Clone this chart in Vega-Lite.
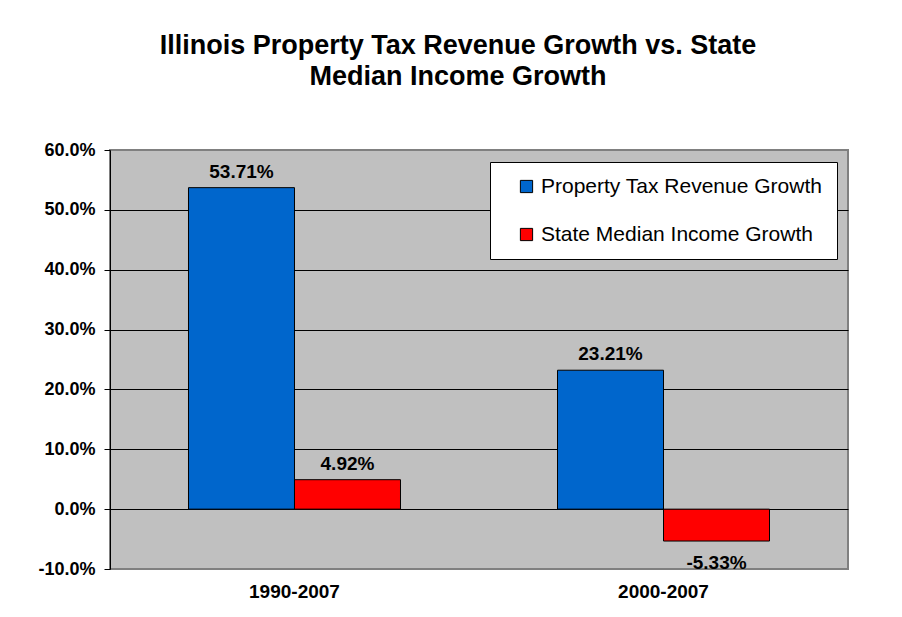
{
  "$schema": "https://vega.github.io/schema/vega-lite/v6.json",
  "width": 738,
  "height": 419,
  "autosize": {"type": "none"},
  "padding": {"left": 110, "top": 150, "right": 54, "bottom": 48},
  "background": "white",
  "config": {
    "font": "Liberation Sans",
    "locale": {"number": {"decimal": ".", "thousands": ",", "grouping": [3], "currency": ["$", ""], "minus": "-"}},
    "view": {"fill": "#C0C0C0", "stroke": "#808080", "strokeWidth": 2}
  },
  "title": {
    "text": ["Illinois Property Tax Revenue Growth vs. State", "Median Income Growth"],
    "fontSize": 27,
    "fontWeight": "bold",
    "color": "black",
    "anchor": "middle",
    "dx": -21,
    "offset": 50,
    "lineHeight": 31
  },
  "data": {
    "values": [
      {"period": "1990-2007", "series": "Property Tax Revenue Growth", "value": 0.5371},
      {"period": "1990-2007", "series": "State Median Income Growth", "value": 0.0492},
      {"period": "2000-2007", "series": "Property Tax Revenue Growth", "value": 0.2321},
      {"period": "2000-2007", "series": "State Median Income Growth", "value": -0.0533}
    ]
  },
  "encoding": {
    "x": {
      "field": "period",
      "type": "nominal",
      "sort": null,
      "scale": {"paddingInner": 0.4255, "paddingOuter": 0.2127},
      "axis": {
        "title": null,
        "labelAngle": 0,
        "labelFontSize": 19,
        "labelFontWeight": "bold",
        "labelColor": "black",
        "ticks": false,
        "domain": false,
        "labelPadding": 13
      }
    },
    "xOffset": {
      "field": "series",
      "type": "nominal",
      "sort": ["Property Tax Revenue Growth", "State Median Income Growth"],
      "scale": {"paddingInner": 0, "paddingOuter": 0}
    },
    "y": {
      "field": "value",
      "type": "quantitative",
      "scale": {"domain": [-0.1, 0.6], "nice": false, "zero": false},
      "axis": {
        "title": null,
        "values": [-0.1, 0, 0.1, 0.2, 0.3, 0.4, 0.5, 0.6],
        "format": ".1%",
        "labelFontSize": 18,
        "labelFontWeight": "bold",
        "labelColor": "black",
        "labelPadding": 9,
        "tickColor": "black",
        "tickSize": 6,
        "domainColor": "black",
        "gridColor": {"condition": {"test": "datum.value <= -0.099 || datum.value >= 0.599", "value": "#808080"}, "value": "black"},
        "gridOpacity": 1
      }
    }
  },
  "layer": [
    {
      "mark": {"type": "bar", "stroke": "black", "strokeWidth": 1},
      "encoding": {
        "color": {
          "field": "series",
          "type": "nominal",
          "sort": ["Property Tax Revenue Growth", "State Median Income Growth"],
          "scale": {"domain": ["Property Tax Revenue Growth", "State Median Income Growth"], "range": ["#0066CC", "#FF0000"]},
          "legend": {
            "title": null,
            "orient": "none",
            "legendX": 380,
            "legendY": 12,
            "direction": "vertical",
            "fillColor": "white",
            "strokeColor": "black",
            "padding": 14,
            "symbolType": "square",
            "symbolSize": 150,
            "symbolStrokeColor": "black",
            "symbolStrokeWidth": 1,
            "symbolOffset": 12,
            "labelFontSize": 21,
            "labelColor": "black",
            "labelOffset": 4,
            "rowPadding": 26,
            "labelLimit": 400
          }
        }
      }
    },
    {
      "transform": [{"filter": "datum.value >= 0"}],
      "mark": {"type": "text", "baseline": "bottom", "dy": -6, "fontSize": 19, "fontWeight": "bold", "color": "black"},
      "encoding": {"text": {"field": "value", "type": "quantitative", "format": ".2%"}}
    },
    {
      "transform": [{"filter": "datum.value < 0"}],
      "mark": {"type": "text", "baseline": "top", "dy": 13, "fontSize": 19, "fontWeight": "bold", "color": "black"},
      "encoding": {"text": {"field": "value", "type": "quantitative", "format": ".2%"}}
    }
  ]
}
